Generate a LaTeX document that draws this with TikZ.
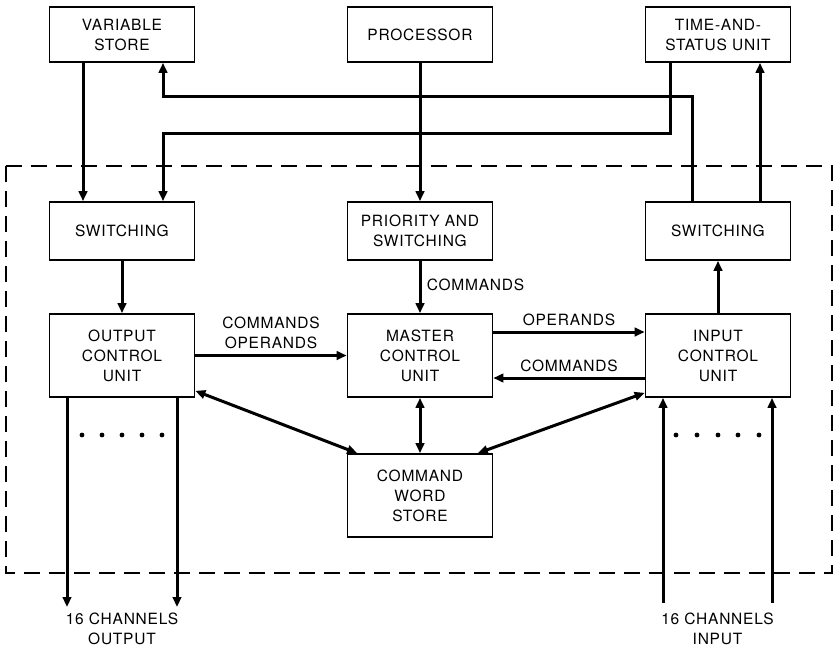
\documentclass[tikz,border=0pt]{standalone}
\usepackage{fontspec}
\setmainfont{TeX Gyre Heros}[LetterSpace=5]
\usetikzlibrary{arrows.meta,calc}

\begin{document}
\begin{tikzpicture}[x=1pt,y=-1pt,
    box/.style={draw,line width=1.7pt,minimum width=145pt,align=center,inner sep=2pt},
    bus/.style={line width=3pt},
    >={Triangle[length=10pt,width=8.5pt]},
    font=\fontsize{15.5}{20}\selectfont]
      \useasboundingbox (0,0) rectangle (835,646);

      \coordinate (VS) at (122, 34.5);
      \coordinate (PR) at (420, 34.5);
      \coordinate (TS) at (718, 34.5);
      \coordinate (SL) at (122, 231);
      \coordinate (PS) at (420, 231);
      \coordinate (SR) at (718, 231);
      \coordinate (OC) at (122, 355.5);
      \coordinate (MC) at (420, 355.5);
      \coordinate (IC) at (718, 355.5);
      \coordinate (CW) at (420, 495.5);

      \coordinate (HiL) at (163, 96);
      \coordinate (HiR) at (692, 96);
      \coordinate (LoL) at (163, 133);
      \coordinate (LoR) at (670, 133);

      \coordinate (OutA) at (67, 607);
      \coordinate (OutB) at (177, 607);
      \coordinate (InA) at (663, 603);
      \coordinate (InB) at (772, 603);

      \draw[line width=1.4pt, dash pattern=on 16pt off 9pt] (6,166) rectangle (832,573);

      \draw (VS) node[box, minimum height=55pt] (VarStore) {VARIABLE\\STORE};
      \draw (PR) node[box, minimum height=55pt] (Proc) {PROCESSOR};
      \draw (TS) node[box, minimum height=55pt] (TimeStat) {TIME-AND-\\STATUS UNIT};
      \draw (SL) node[box, minimum height=58pt] (SwL) {SWITCHING};
      \draw (PS) node[box, minimum height=58pt] (Prio) {PRIORITY AND\\SWITCHING};
      \draw (SR) node[box, minimum height=58pt] (SwR) {SWITCHING};
      \draw (OC) node[box, minimum height=83pt] (OutCU) {OUTPUT\\CONTROL\\UNIT};
      \draw (MC) node[box, minimum height=83pt] (MastCU) {MASTER\\CONTROL\\UNIT};
      \draw (IC) node[box, minimum height=83pt] (InCU) {INPUT\\CONTROL\\UNIT};
      \draw (CW) node[box, minimum height=83pt] (CmdWS) {COMMAND\\WORD\\STORE};

      % top units to switching
      \draw[bus,->] ([xshift=-39pt]VarStore.south) -- ([xshift=-39pt]SwL.north);
      \draw[bus,->] (Proc.south) -- (Prio.north);
      \draw[bus,->] (LoR |- TimeStat.south) -- (LoR) -- (LoL) -- (LoL |- SwL.north);
      \draw[bus,->] (HiR |- SwR.north) -- (HiR) -- (HiL) -- (HiL |- VarStore.south);
      \draw[bus,->] ([xshift=42pt]SwR.north) -- ([xshift=42pt]TimeStat.south);

      % switching to control units
      \draw[bus,->] (SwL.south) -- (OutCU.north);
      \draw[bus,->] (Prio.south) -- (MastCU.north)
        node[pos=0.45, right=2pt] {COMMANDS};
      \draw[bus,->] (InCU.north) -- (SwR.south);

      % between control units
      \draw[bus,->] (OutCU.east) -- (MastCU.west)
        node[midway, above=2pt, align=center] {COMMANDS\\OPERANDS};
      \draw[bus,->] ([yshift=23.5pt]MastCU.east) -- ([yshift=23.5pt]InCU.west)
        node[midway, above=1pt] {OPERANDS};
      \draw[bus,->] ([yshift=-22.5pt]InCU.west) -- ([yshift=-22.5pt]MastCU.east)
        node[midway, above=1pt] {COMMANDS};

      % command word store
      \draw[bus,<->] ([yshift=7pt]OutCU.south east) -- ([xshift=10.5pt]CmdWS.north west);
      \draw[bus,<->] (MastCU.south) -- (CmdWS.north);
      \draw[bus,<->] ([yshift=5pt]InCU.south west) -- ([xshift=-15.5pt]CmdWS.north east);

      % channels
      \draw[bus,->] (OutA |- OutCU.south) -- (OutA);
      \draw[bus,->] (OutB |- OutCU.south) -- (OutB);
      \draw[bus,->] (InA) -- (InA |- InCU.south);
      \draw[bus,->] (InB) -- (InB |- InCU.south);
      \foreach \x in {82,102,122,142,162} \fill (\x,435) circle (2.4pt);
      \foreach \x in {676,697,718,738,759} \fill (\x,435) circle (2.4pt);

      \draw ($(OutA)!0.5!(OutB)$) node[below=2pt, align=center] {16 CHANNELS\\OUTPUT};
      \draw ($(InA)!0.5!(InB)$) node[below=6pt, align=center] {16 CHANNELS\\INPUT};
    \end{tikzpicture}
\end{document}
